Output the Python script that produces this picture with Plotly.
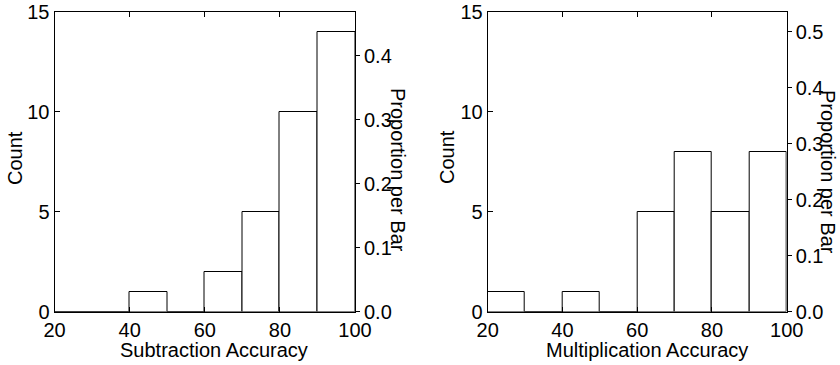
import plotly.graph_objects as go

# Data
bin_centers = [25, 35, 45, 55, 65, 75, 85, 95]
sub_counts = [0, 0, 1, 0, 2, 5, 10, 14]
mul_counts = [1, 0, 1, 0, 5, 8, 5, 8]
x_ticks = [20, 40, 60, 80, 100]
count_ticks = [0, 5, 10, 15]
prop_ticks = [0.0, 0.1, 0.2, 0.3, 0.4, 0.5]

W, H = 840, 365
FONT = "Liberation Sans, Arial, Helvetica, sans-serif"
FS = 20

sub_n = sum(sub_counts)
mul_n = sum(mul_counts)


def px(x):
    return x / W


def py(y):
    return 1 - y / H


fig = go.Figure()

bar_style = dict(marker=dict(color="white", line=dict(color="black", width=1)),
                 width=10, hoverinfo="skip", showlegend=False)

fig.add_trace(go.Bar(x=bin_centers, y=sub_counts, xaxis="x", yaxis="y", **bar_style))
fig.add_trace(go.Scatter(x=bin_centers, y=[c / sub_n for c in sub_counts], xaxis="x", yaxis="y2",
                         mode="markers", marker=dict(opacity=0), hoverinfo="skip", showlegend=False))
fig.add_trace(go.Bar(x=bin_centers, y=mul_counts, xaxis="x2", yaxis="y3", **bar_style))
fig.add_trace(go.Scatter(x=bin_centers, y=[c / mul_n for c in mul_counts], xaxis="x2", yaxis="y4",
                         mode="markers", marker=dict(opacity=0), hoverinfo="skip", showlegend=False))

ydom = [py(311.6), py(12)]
xdom1 = [px(54.5), px(355)]
xdom2 = [px(487.7), px(786.7)]

common = dict(showline=True, linecolor="black", linewidth=1, showgrid=False, zeroline=False,
              tickcolor="black", tickwidth=1, ticklen=5, automargin=False,
              tickfont=dict(family=FONT, size=FS, color="black"))

xax = dict(common, range=[20, 100], tickvals=x_ticks, ticks="inside", mirror="ticks")
ycount = dict(common, range=[0, 15], tickvals=count_ticks, ticks="inside", domain=ydom)
yprop = dict(common, side="right", ticks="outside", ticklen=4, tickvals=prop_ticks,
             tickformat=".1f", domain=ydom)

fig.update_layout(
    width=W, height=H,
    margin=dict(l=0, r=0, t=0, b=0, autoexpand=False),
    paper_bgcolor="white", plot_bgcolor="white",
    bargap=0,
    font=dict(family=FONT, size=FS, color="black"),
    xaxis=dict(xax, domain=xdom1, anchor="y"),
    yaxis=dict(ycount, anchor="x"),
    yaxis2=dict(yprop, anchor="x", overlaying="y", range=[0, 15 / sub_n]),
    xaxis2=dict(xax, domain=xdom2, anchor="y3"),
    yaxis3=dict(ycount, anchor="x2"),
    yaxis4=dict(yprop, anchor="x2", overlaying="y3", range=[0, 15 / mul_n]),
)

ann = [
    ("Count", 15, 158, -90),
    ("Proportion per Bar", 398, 170, 90),
    ("Subtraction Accuracy", 214, 350, 0),
    ("Count", 447, 157, -90),
    ("Proportion per Bar", 828, 172, 90),
    ("Multiplication Accuracy", 647, 350, 0),
]
for text, x, y, ang in ann:
    fig.add_annotation(text=text, x=px(x), y=py(y), xref="paper", yref="paper",
                       xanchor="center", yanchor="middle", textangle=ang, showarrow=False,
                       font=dict(family=FONT, size=FS, color="black"))

fig.write_html("out.html")
